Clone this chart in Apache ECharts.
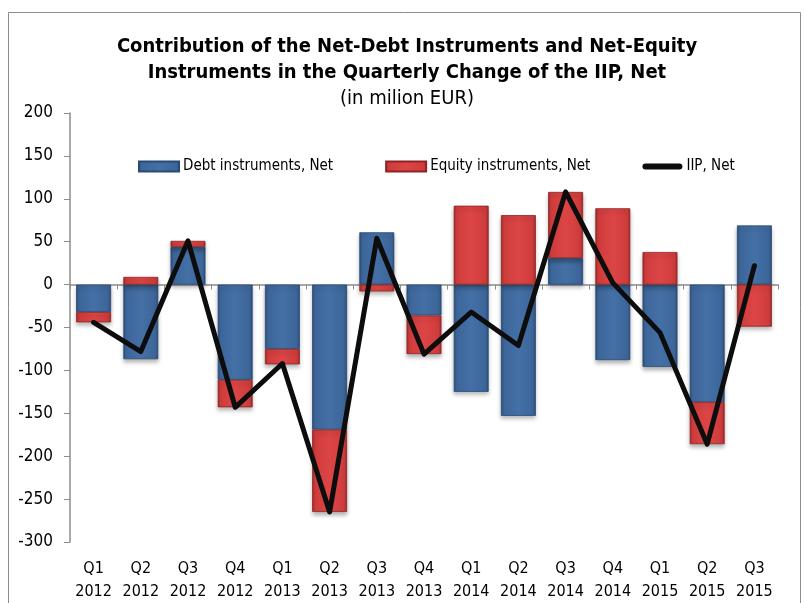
<!DOCTYPE html>
<html>
<head>
<meta charset="utf-8">
<style>
  html, body { margin: 0; padding: 0; background: #ffffff; }
  #chart { width: 804px; height: 603px; }
</style>
<script src="https://cdn.jsdelivr.net/npm/echarts@6/dist/echarts.min.js"></script>
</head>
<body>
<div id="chart"></div>
<script>
// Quarterly contributions to the change of the net IIP (million EUR)
var categories = ['Q1\n2012', 'Q2\n2012', 'Q3\n2012', 'Q4\n2012',
                  'Q1\n2013', 'Q2\n2013', 'Q3\n2013', 'Q4\n2013',
                  'Q1\n2014', 'Q2\n2014', 'Q3\n2014', 'Q4\n2014',
                  'Q1\n2015', 'Q2\n2015', 'Q3\n2015'];
var debtNet   = [-32, -87, 44, -111, -75, -169, 61, -36, -125, -153, 31, -88, -96, -137, 69];
var equityNet = [-12, 9, 7, -32, -18, -96, -8, -45, 92, 81, 77, 89, 38, -49, -49];
var iipNet    = [-44, -78, 51, -143, -92, -265, 54, -81, -32, -71, 108, 2, -56, -186, 22];
var yTicks = { min: -300, max: 200, step: 50 };

var FONT = '"DejaVu Sans Condensed", "DejaVu Sans", sans-serif';

function bevel(dark, mid, light) {
  return new echarts.graphic.LinearGradient(0, 0, 1, 0, [
    { offset: 0, color: dark },
    { offset: 0.08, color: mid },
    { offset: 0.5, color: light },
    { offset: 0.92, color: mid },
    { offset: 1, color: dark }
  ]);
}
var blueFill = bevel('#2b4f7e', '#3d6699', '#4470a6');
var redFill  = bevel('#9e2a2a', '#cf3c3c', '#dc4545');

var chart = echarts.init(document.getElementById('chart'), null, { renderer: 'canvas' });

chart.setOption({
  animation: false,
  backgroundColor: '#ffffff',
  textStyle: { fontFamily: FONT },
  graphic: [{
    type: 'rect',
    shape: { x: 8.5, y: 12.5, width: 792, height: 620 },
    style: { fill: 'none', stroke: '#8c8c8c', lineWidth: 1 },
    silent: true
  }],
  title: {
    text: 'Contribution of the Net-Debt Instruments and Net-Equity\nInstruments in the Quarterly Change of the IIP, Net',
    subtext: '(in milion EUR)',
    left: 402,
    textAlign: 'center',
    top: 29,
    itemGap: 1,
    textStyle: { fontFamily: FONT, fontWeight: 'bold', fontSize: 20, lineHeight: 26, color: '#000' },
    subtextStyle: { fontFamily: FONT, fontSize: 20, lineHeight: 24, color: '#000' }
  },
  legend: {
    top: 154,
    left: 133,
    itemWidth: 40,
    itemHeight: 10,
    itemGap: 52,
    textStyle: { fontFamily: FONT, fontSize: 15, color: '#000', padding: [0, 0, 0, -1] },
    data: [
      { name: 'Debt instruments, Net', icon: 'rect' },
      { name: 'Equity instruments, Net', icon: 'rect' },
      { name: 'IIP, Net', icon: 'path://M3,0 H37 A3,3 0 0 1 37,6 H3 A3,3 0 0 1 3,0 Z',
        itemStyle: { color: '#0d0d0d' } }
    ]
  },
  grid: { left: 70, right: 26, top: 113, bottom: 60, containLabel: false },
  xAxis: [{
    type: 'category',
    data: categories,
    position: 'bottom',
    axisLine: { show: false, onZero: false },
    axisTick: { show: false },
    axisLabel: { interval: 0, hideOverlap: false, fontFamily: FONT, fontSize: 16, color: '#000', lineHeight: 23, margin: 15 }
  }, {
    type: 'category',
    data: categories,
    position: 'bottom',
    axisLine: { show: true, onZero: true, lineStyle: { color: '#8c8c8c', width: 1.5 } },
    axisTick: { show: true, interval: 0, length: 5, lineStyle: { color: '#8c8c8c', width: 1 } },
    axisLabel: { show: false }
  }],
  yAxis: {
    type: 'value',
    min: yTicks.min,
    max: yTicks.max,
    interval: yTicks.step,
    axisLine: { show: true, lineStyle: { color: '#8c8c8c', width: 1.5 } },
    axisTick: { show: true, length: 6, lineStyle: { color: '#8c8c8c' } },
    splitLine: { show: false },
    axisLabel: { fontFamily: FONT, fontSize: 17, color: '#000', margin: 17 }
  },
  series: [{
    name: 'Debt instruments, Net',
    type: 'bar',
    stack: 'contrib',
    xAxisIndex: 0,
    barWidth: '74%',
    data: debtNet,
    itemStyle: {
      color: blueFill, borderColor: '#2a4a75', borderWidth: 0.8,
      shadowColor: 'rgba(0,0,0,0.28)', shadowBlur: 4, shadowOffsetY: 3
    }
  }, {
    name: 'Equity instruments, Net',
    type: 'bar',
    stack: 'contrib',
    xAxisIndex: 0,
    barWidth: '74%',
    data: equityNet,
    itemStyle: {
      color: redFill, borderColor: '#8f2424', borderWidth: 0.8,
      shadowColor: 'rgba(0,0,0,0.28)', shadowBlur: 4, shadowOffsetY: 3
    }
  }, {
    name: 'IIP, Net',
    type: 'line',
    xAxisIndex: 0,
    data: iipNet,
    symbol: 'none',
    z: 5,
    lineStyle: { color: '#0d0d0d', width: 5, cap: 'round', join: 'round' },
    itemStyle: { color: '#0d0d0d' }
  }]
});
</script>
</body>
</html>
